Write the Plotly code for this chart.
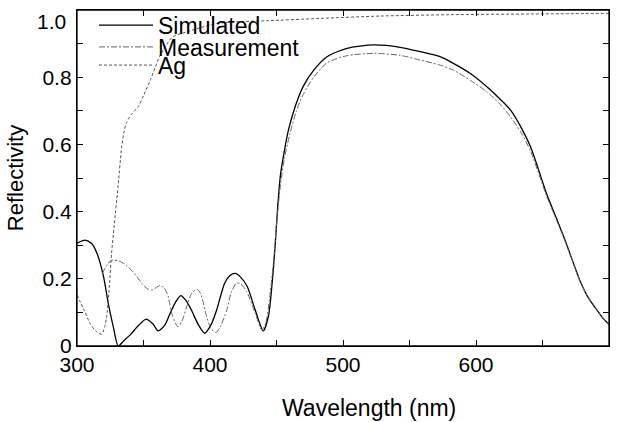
import plotly.graph_objects as go

# Simulated reflectivity
wl_sim = [300, 306, 311, 315, 320, 323.5, 327.3, 331, 335, 340, 346, 352, 357, 361, 366, 370, 374, 378,
          382, 386, 391, 396, 401, 405, 411, 415, 419, 423, 428, 434, 440, 444, 447, 449, 451, 453, 455,
          459, 464, 470, 478, 488, 503, 523, 543, 558, 573, 583, 596, 608, 618, 626, 634, 641, 647, 653,
          660, 666, 672, 678, 685, 691, 696, 700]
r_sim = [0.306, 0.315, 0.305, 0.276, 0.206, 0.127, 0.057, 0.0, 0.015, 0.033, 0.06, 0.08, 0.066, 0.045,
         0.062, 0.097, 0.13, 0.15, 0.135, 0.107, 0.065, 0.038, 0.065, 0.107, 0.187, 0.21, 0.216, 0.205,
         0.177, 0.107, 0.045, 0.09, 0.2, 0.3, 0.42, 0.51, 0.56, 0.643, 0.712, 0.772, 0.821, 0.861, 0.886,
         0.896, 0.889, 0.876, 0.861, 0.841, 0.81, 0.772, 0.735, 0.702, 0.65, 0.593, 0.525, 0.454, 0.385,
         0.325, 0.26, 0.196, 0.14, 0.107, 0.08, 0.065]

# Measured reflectivity
wl_meas = [319, 323, 327, 332, 337, 341, 345, 349, 353, 357, 360, 362.4, 365, 368, 372, 376, 379, 382.5,
           386, 390, 393, 397.5, 401, 404.5, 408, 412.6, 416, 420, 423, 427.6, 434, 439, 442, 445, 448,
           450, 453, 456, 460, 465, 470, 478, 488, 503, 523, 543, 558, 573, 583, 596, 608, 618, 626, 634,
           641, 647, 653, 660, 666, 672, 678, 685, 691, 696, 700]
r_meas = [0.215, 0.245, 0.256, 0.252, 0.241, 0.225, 0.206, 0.185, 0.17, 0.167, 0.175, 0.18, 0.175, 0.155,
          0.087, 0.057, 0.075, 0.117, 0.155, 0.169, 0.155, 0.087, 0.05, 0.04, 0.06, 0.107, 0.16, 0.187,
          0.185, 0.162, 0.097, 0.048, 0.07, 0.15, 0.26, 0.36, 0.48, 0.56, 0.63, 0.7, 0.748, 0.8, 0.843,
          0.864, 0.871, 0.865, 0.851, 0.836, 0.821, 0.79, 0.757, 0.72, 0.682, 0.635, 0.58, 0.515, 0.447,
          0.38, 0.322, 0.258, 0.195, 0.14, 0.107, 0.08, 0.065]

# Silver reference
wl_ag = [300, 305, 310, 314, 318.5, 321, 322.3, 324.3, 326, 328, 331, 333.6, 335.5, 337, 341, 346, 350,
         355, 362, 367, 372, 382.5, 395, 405, 420, 442.6, 483, 528, 580, 640, 700]
r_ag = [0.152, 0.11, 0.066, 0.045, 0.035, 0.06, 0.087, 0.176, 0.276, 0.36, 0.48, 0.593, 0.64, 0.663,
        0.69, 0.712, 0.745, 0.79, 0.861, 0.895, 0.92, 0.935, 0.95, 0.96, 0.965, 0.968, 0.975, 0.982,
        0.986, 0.988, 0.99]

x_tickvals = [300, 350, 400, 450, 500, 550, 600, 650, 700]
x_ticktext = ["300", "", "400", "", "500", "", "600", "", "700"]
y_tickvals = [0, 0.1, 0.2, 0.3, 0.4, 0.5, 0.6, 0.7, 0.8, 0.9, 1.0]
y_ticktext = ["0", "", "0.2", "", "0.4", "", "0.6", "", "0.8", "", ""]

FONT = "Liberation Sans, Arial, sans-serif"
LEG_FONT = dict(family=FONT, size=23, color="black")

fig = go.Figure()
fig.add_trace(go.Scatter(x=wl_sim, y=r_sim, name="Simulated", mode="lines", legend="legend",
                         line=dict(color="black", width=1.3, shape="spline", smoothing=0.7)))
fig.add_trace(go.Scatter(x=wl_meas, y=r_meas, name="Measurement", mode="lines", legend="legend2",
                         line=dict(color="#666666", width=1, dash="6px,2px,2px,2px",
                                   shape="spline", smoothing=0.7)))
fig.add_trace(go.Scatter(x=wl_ag, y=r_ag, name="Ag", mode="lines", legend="legend3",
                         line=dict(color="#555555", width=1, dash="3px,2px",
                                   shape="spline", smoothing=0.7)))

axis_common = dict(showline=True, linecolor="black", linewidth=1.3, mirror="ticks",
                   ticks="inside", ticklen=6, tickcolor="black", tickwidth=1.3,
                   showgrid=False, zeroline=False,
                   tickfont=dict(family=FONT, size=21, color="black"))

leg_common = dict(xanchor="left", yanchor="middle", bgcolor="rgba(0,0,0,0)", borderwidth=0,
                  font=LEG_FONT, itemwidth=54)

fig.update_layout(
    width=624, height=422,
    margin=dict(l=77, r=15, t=10, b=76, autoexpand=False),
    paper_bgcolor="white", plot_bgcolor="white",
    showlegend=True,
    legend=dict(x=0.032, y=0.955, **leg_common),
    legend2=dict(x=0.032, y=0.890, **leg_common),
    legend3=dict(x=0.032, y=0.836, **leg_common),
    xaxis=dict(range=[300, 700], tickvals=x_tickvals, ticktext=x_ticktext, **axis_common),
    yaxis=dict(range=[0, 1.0], tickvals=y_tickvals, ticktext=y_ticktext,
               title=dict(text="Reflectivity", font=dict(family=FONT, size=22, color="black"), standoff=12),
               **axis_common),
)

# plot frame
fig.add_shape(type="rect", xref="paper", yref="paper", x0=0, y0=0, x1=1, y1=1,
              line=dict(color="black", width=1.3), fillcolor="rgba(0,0,0,0)", layer="above")

fig.add_annotation(text="1.0", xref="paper", yref="y", x=0, y=1.0, xanchor="right", yanchor="middle",
                   xshift=-9, yshift=-11, showarrow=False,
                   font=dict(family=FONT, size=21, color="black"))
fig.add_annotation(text="Wavelength (nm)", xref="paper", yref="paper", x=0.548, y=0, xanchor="center",
                   yanchor="middle", yshift=-62, showarrow=False,
                   font=dict(family=FONT, size=23, color="black"))

fig.write_html("out.html", config={"displayModeBar": False},
               post_script="document.body.style.margin='0';document.body.style.padding='0';")
